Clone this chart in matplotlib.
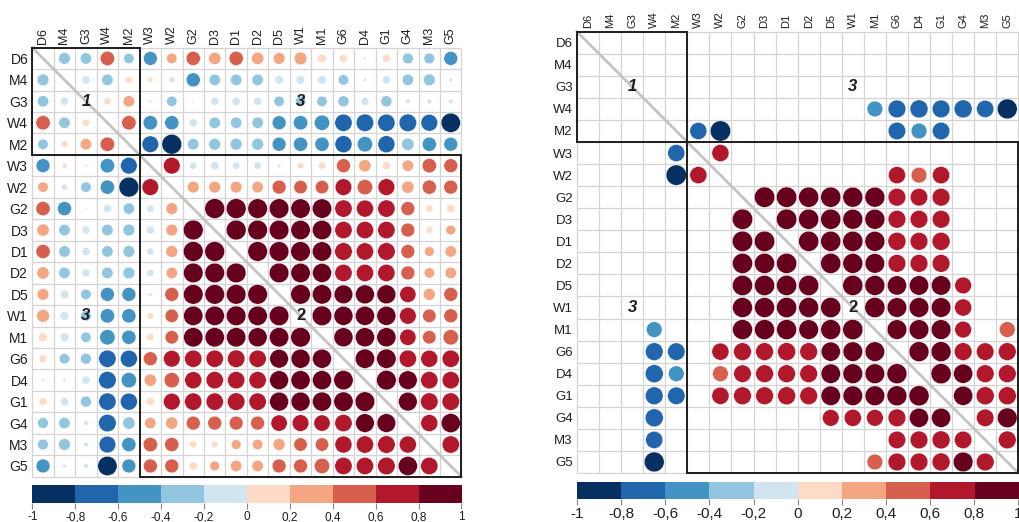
"""Clustered correlation matrices: all coefficients and the significant ones."""
import matplotlib
matplotlib.use('Agg')
import matplotlib.pyplot as plt
from matplotlib.patches import Circle, Rectangle
from matplotlib.collections import PatchCollection
from matplotlib.colors import ListedColormap
import numpy as np

plt.rcParams['font.family'] = ['Liberation Sans', 'DejaVu Sans']

NAMES = ['D6', 'M4', 'G3', 'W4', 'M2', 'W3', 'W2', 'G2', 'D3', 'D1',
         'D2', 'D5', 'W1', 'M1', 'G6', 'D4', 'G1', 'G4', 'M3', 'G5']

# Upper triangle, row by row (each row starts just right of the diagonal)
ROW_D6 = [-0.32, -0.30, 0.48, -0.25, -0.45, 0.25, 0.47, 0.35, 0.47, 0.35,
          0.32, 0.38, 0.18, 0.14, 0.02, 0.14, -0.27, -0.27, -0.45]
ROW_M4 = [-0.15, -0.30, 0.10, 0.06, -0.08, -0.46, -0.30, -0.30, -0.30,
          -0.17, -0.17, -0.17, -0.25, -0.02, -0.15, -0.30, -0.32, -0.03]
ROW_G3 = [0.12, 0.30, 0.02, -0.25, 0.01, -0.15, -0.15, -0.15, -0.25,
          -0.25, -0.25, -0.28, -0.15, -0.28, -0.05, -0.05, -0.05]
ROW_W4 = [0.48, -0.48, -0.47, -0.15, -0.30, -0.30, -0.30, -0.45, -0.48,
          -0.55, -0.70, -0.72, -0.70, -0.72, -0.66, -0.88]
ROW_M2 = [-0.65, -0.92, -0.30, -0.32, -0.32, -0.32, -0.45, -0.47, -0.47,
          -0.68, -0.55, -0.68, -0.35, -0.47, -0.45]
ROW_W3 = [0.65, -0.12, -0.15, -0.12, -0.12, -0.03, 0.10, 0.12, 0.45,
          0.35, 0.15, 0.30, 0.48, 0.45]
ROW_W2 = [0.32, 0.32, 0.32, 0.30, 0.45, 0.42, 0.42, 0.65, 0.55, 0.66,
          0.35, 0.47, 0.45]
ROW_G2 = [0.92, 0.92, 0.90, 0.90, 0.88, 0.88, 0.70, 0.68, 0.70, 0.45,
          0.12, 0.15]
ROW_D3 = [0.92, 0.90, 0.90, 0.88, 0.88, 0.70, 0.70, 0.70, 0.45, 0.10, 0.22]
ROW_D1 = [0.90, 0.90, 0.90, 0.88, 0.72, 0.70, 0.72, 0.45, 0.22, 0.30]
ROW_D2 = [0.90, 0.88, 0.85, 0.70, 0.70, 0.70, 0.45, 0.25, 0.30]
ROW_D5 = [0.90, 0.88, 0.82, 0.84, 0.84, 0.62, 0.33, 0.45]
ROW_W1 = [0.90, 0.85, 0.86, 0.85, 0.65, 0.42, 0.45]
ROW_M1 = [0.85, 0.86, 0.86, 0.62, 0.42, 0.55]
ROW_G6 = [0.88, 0.88, 0.70, 0.68, 0.70]
ROW_D4 = [0.90, 0.82, 0.70, 0.70]
ROW_G1 = [0.82, 0.72, 0.72]
ROW_G4 = [0.68, 0.86]
ROW_M3 = [0.70]

UPPER = [ROW_D6, ROW_M4, ROW_G3, ROW_W4, ROW_M2, ROW_W3, ROW_W2, ROW_G2,
         ROW_D3, ROW_D1, ROW_D2, ROW_D5, ROW_W1, ROW_M1, ROW_G6, ROW_D4,
         ROW_G1, ROW_G4, ROW_M3]

# |r| above this is treated as significant (right-hand panel)
SIG_LEVEL = 0.5

# hierarchical clusters: (start, stop) index ranges
CLUSTERS = [(0, 5), (5, 20)]
CLUSTER_TAGS = [('1', 0, 0), ('2', 1, 1), ('3', 0, 1), ('3', 1, 0)]

CB_TICKS = [-1, -0.8, -0.6, -0.4, -0.2, 0, 0.2, 0.4, 0.6, 0.8, 1]

PALETTE = ['#053061', '#2166AC', '#4393C3', '#92C5DE', '#D1E5F0',
           '#FDDBC7', '#F4A582', '#D6604D', '#B2182B', '#67001F']
GRID = '#d4d4d4'
DIAG = '#c4c4c4'
TXT = '#1e1e1e'

W, H = 1020, 522


def build_matrix():
    n = len(NAMES)
    m = np.eye(n)
    for i, row in enumerate(UPPER):
        for k, v in enumerate(row):
            j = i + 1 + k
            m[i, j] = v
            m[j, i] = v
    return m


def px_axes(fig, x, y, w, h):
    """Axes placed in pixel coordinates measured from the top-left corner."""
    return fig.add_axes([x / W, 1 - (y + h) / H, w / W, h / H])


def bin_color(r):
    idx = int(np.clip(np.floor((r + 1) / 0.2), 0, 9))
    return PALETTE[idx]


def draw_corr(ax, corr, only_sig=False, col_fs=9, row_fs=10, tag_fs=12):
    n = len(NAMES)
    ax.set_xlim(0, n)
    ax.set_ylim(n, 0)
    for s in ax.spines.values():
        s.set_visible(False)

    ax.hlines(np.arange(n + 1), 0, n, color=GRID, lw=0.9, zorder=1, clip_on=False)
    ax.vlines(np.arange(n + 1), 0, n, color=GRID, lw=0.9, zorder=1, clip_on=False)
    ax.plot([0, n], [0, n], color=DIAG, lw=2, zorder=1, clip_on=False)

    patches, colors = [], []
    for i in range(n):
        for j in range(n):
            if i == j:
                continue
            r = corr[i, j]
            if only_sig and abs(r) <= SIG_LEVEL:
                continue
            patches.append(Circle((j + 0.5, i + 0.5), 0.48 * np.sqrt(abs(r))))
            colors.append(bin_color(r))
    ax.add_collection(PatchCollection(patches, facecolors=colors,
                                      edgecolors='white', linewidths=0.3, zorder=2))

    for a, b in CLUSTERS:
        ax.add_patch(Rectangle((a, a), b - a, b - a, fill=False, ec=TXT,
                               lw=1.4, zorder=4, clip_on=False))

    for tag, ci, cj in CLUSTER_TAGS:
        cx = (CLUSTERS[cj][0] + CLUSTERS[cj][1]) // 2 + 0.5
        cy = (CLUSTERS[ci][0] + CLUSTERS[ci][1]) // 2 + 0.5
        ax.text(cx, cy, tag, ha='center', va='center', fontsize=tag_fs,
                fontweight='bold', style='normal' if tag == '2' else 'italic',
                color=TXT, zorder=5)

    centers = np.arange(n) + 0.5
    ax.set_xticks(centers)
    ax.set_xticklabels(NAMES, rotation=90, fontsize=col_fs, color=TXT)
    ax.xaxis.tick_top()
    ax.set_yticks(centers)
    ax.set_yticklabels(NAMES, fontsize=row_fs, color=TXT)
    ax.tick_params(length=0, pad=3)


def draw_colorbar(ax, fs):
    cmap = ListedColormap(PALETTE)
    ax.imshow(np.arange(10)[None, :], cmap=cmap, extent=(-1, 1, 0, 1),
              aspect='auto', interpolation='nearest')
    ax.set_xlim(-1, 1)
    ax.set_ylim(0, 1)
    for s in ax.spines.values():
        s.set_visible(False)
    labels = [str(int(t)) if float(t).is_integer() else f'{t:.1f}'.replace('.', ',')
              for t in CB_TICKS]
    ax.set_xticks(CB_TICKS)
    ax.set_xticklabels(labels, fontsize=fs, color=TXT)
    ax.set_yticks([])
    ax.tick_params(axis='x', length=4, width=0.8, color='#888888', pad=2)


corr = build_matrix()

fig = plt.figure(figsize=(W / 100, H / 100), dpi=100)

ax_all = px_axes(fig, 32.3, 47.7, 429.2, 429.0)
draw_corr(ax_all, corr, only_sig=False, col_fs=9, row_fs=10, tag_fs=12)
cb_all = px_axes(fig, 32.3, 485, 429.2, 18)
draw_colorbar(cb_all, fs=8.5)

ax_sig = px_axes(fig, 577, 31.7, 441.3, 441.3)
draw_corr(ax_sig, corr, only_sig=True, col_fs=8, row_fs=9.5, tag_fs=12)
cb_sig = px_axes(fig, 577, 482, 441.3, 17)
draw_colorbar(cb_sig, fs=11)

fig.savefig('out.png', dpi=100, facecolor='white')
